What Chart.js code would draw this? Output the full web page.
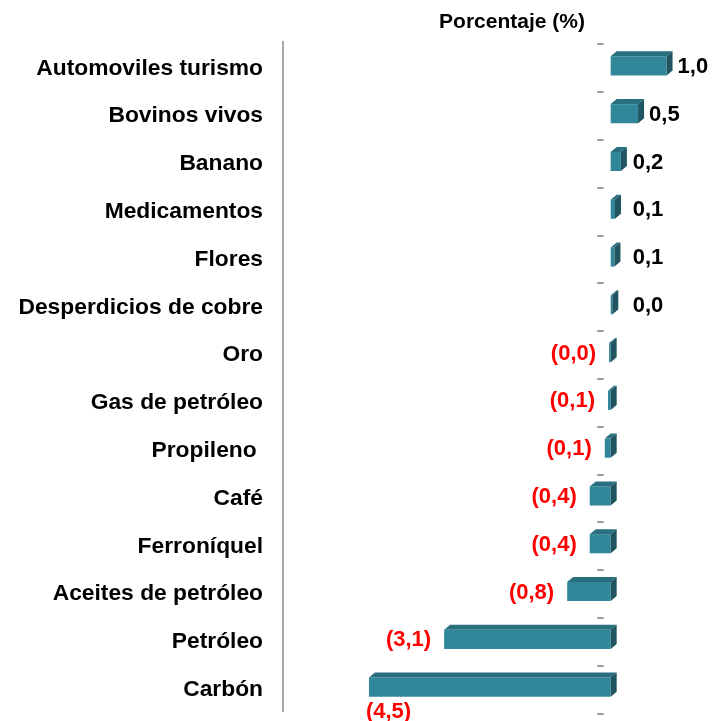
<!DOCTYPE html>
<html><head><meta charset="utf-8">
<script src="https://cdn.jsdelivr.net/npm/chart.js@4"></script>
<style>html,body{margin:0;padding:0;background:#fff}</style>
</head><body>
<canvas id="c" width="717" height="721"></canvas>
<script>
const categories = ["Automoviles turismo","Bovinos vivos","Banano","Medicamentos","Flores","Desperdicios de cobre","Oro","Gas de petróleo","Propileno ","Café","Ferroníquel","Aceites de petróleo","Petróleo","Carbón"];
const values = [1.04, 0.51, 0.19, 0.08, 0.07, 0.03, -0.03, -0.05, -0.11, -0.39, -0.39, -0.81, -3.1, -4.5];
const axisMin = -6.1, axisMax = 1.7;
const titleText = "Porcentaje (%)";

const FONT = "'Liberation Sans', Arial, sans-serif";
const FRONT = '#31879a', TOP = '#2a6f7f', SIDE = '#1f5460';
const DX = 6, DY = -5, SHIFT = 2.5;

function fmt(v){
  const s = Math.abs(v).toFixed(1).replace('.', ',');
  return v < 0 ? '(' + s + ')' : s;
}

const depth3d = {
  id:'depth3d',
  afterDatasetsDraw(chart){
    const ctx = chart.ctx;
    const meta = chart.getDatasetMeta(0);
    ctx.save();
    meta.data.forEach(bar=>{
      const p = bar.getProps(['x','y','base','height'], true);
      const l = Math.min(p.x,p.base), r = Math.max(p.x,p.base);
      const t = p.y - p.height/2, b = p.y + p.height/2;
      ctx.fillStyle = TOP;
      ctx.beginPath(); ctx.moveTo(l,t); ctx.lineTo(l+DX,t+DY); ctx.lineTo(r+DX,t+DY); ctx.lineTo(r,t); ctx.closePath(); ctx.fill();
      ctx.fillStyle = SIDE;
      ctx.beginPath(); ctx.moveTo(r,t); ctx.lineTo(r+DX,t+DY); ctx.lineTo(r+DX,b+DY); ctx.lineTo(r,b); ctx.closePath(); ctx.fill();
    });
    ctx.restore();
  }
};

const extras = {
  id:'extras',
  afterDraw(chart){
    const ctx = chart.ctx;
    const xs = chart.scales.x, ys = chart.scales.y, ca = chart.chartArea;
    const x0 = xs.getPixelForValue(0);
    const step = ys.getPixelForValue(1) - ys.getPixelForValue(0);
    ctx.save();
    // tick dashes
    ctx.strokeStyle = '#9a9a9a'; ctx.lineWidth = 2;
    for(let i=0;i<=categories.length;i++){
      const yy = Math.round(ys.getPixelForValue(0) - step/2 + i*step + SHIFT) ;
      ctx.beginPath(); ctx.moveTo(x0-13.5, yy); ctx.lineTo(x0-7, yy); ctx.stroke();
    }
    // value labels
    ctx.font = 'bold 22px ' + FONT;
    ctx.textBaseline = 'middle';
    const meta = chart.getDatasetMeta(0);
    meta.data.forEach((bar,i)=>{
      const v = values[i];
      const p = bar.getProps(['x','y','base'], true);
      const txt = fmt(v);
      if (v >= 0){
        ctx.fillStyle = '#000'; ctx.textAlign = 'left';
        ctx.fillText(txt, Math.max(p.x + 11, x0 + 22), p.y + 1);
      } else {
        ctx.fillStyle = '#ff0000';
        const w = ctx.measureText(txt).width;
        if (p.x - 13 - w < ca.left + 40){
          ctx.textAlign = 'left';
          ctx.fillText(txt, p.x - 3, p.y + 25);
        } else {
          ctx.textAlign = 'right';
          ctx.fillText(txt, p.x - 13, p.y + 1);
        }
      }
    });
    // title
    ctx.fillStyle = '#000'; ctx.textAlign = 'center';
    ctx.font = 'bold 21px ' + FONT;
    ctx.fillText(titleText, 512, 22);
    ctx.restore();
  }
};

new Chart(document.getElementById('c'), {
  type:'bar',
  data:{ labels: categories, datasets:[{ data: values, backgroundColor: FRONT, borderWidth:0, barPercentage:0.4, categoryPercentage:1 }]},
  options:{
    responsive:false, animation:false, indexAxis:'y',
    layout:{padding:{top:42, bottom:10, right:15, left:0}},
    plugins:{legend:{display:false}, tooltip:{enabled:false}, title:{display:false}},
    scales:{
      x:{type:'linear', min:axisMin, max:axisMax, display:false},
      y:{type:'category', offset:true,
         grid:{display:false, drawTicks:false},
         border:{display:true, color:'#a8a8a8', width:2},
         ticks:{color:'#000', font:{family:FONT, size:22.8, weight:'bold'}, padding:20, labelOffset:SHIFT, autoSkip:false},
         afterFit(s){ s.width = 283; s.paddingTop = 0; s.paddingBottom = 0; }
      }
    }
  },
  plugins:[depth3d, extras]
});
</script>
</body></html>
